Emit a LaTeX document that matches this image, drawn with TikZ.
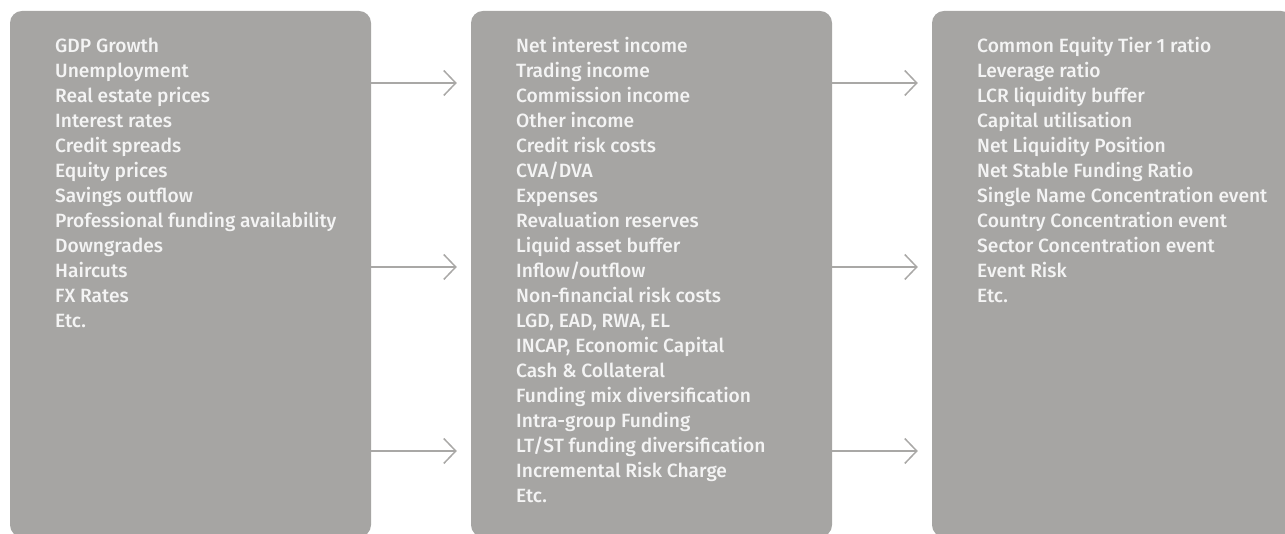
\documentclass[tikz,border=0pt]{standalone}
\usepackage{fontspec}
\setmainfont{Fira Sans Medium}
\usetikzlibrary{arrows.meta}
\definecolor{boxgray}{HTML}{A6A5A3}
\definecolor{linegray}{HTML}{A9A8A6}
\definecolor{textwhite}{HTML}{F4F4F4}

\begin{document}
\begin{tikzpicture}[x=1pt, y=1pt,
        panel/.style={fill=boxgray, rounded corners=12pt, inner sep=0pt,
            minimum width=361pt, minimum height=526pt},
        item/.style={text=textwhite, anchor=base west, inner sep=0pt,
            font=\fontsize{19.2}{20}\selectfont},
        link/.style={draw=linegray, line width=1.5pt,
            -{Straight Barb[length=12pt, width=25pt]}, shorten >=14pt}]
        \useasboundingbox (0,0) rectangle (1285,534);
        \clip (0,0) rectangle (1285,534);

        % Draw the three panels
        \node[panel] (drivers) at (190.5,260) {};
        \node[panel] (impact) at (651.5,260) {};
        \node[panel] (metrics) at (1112.5,260) {};

        % Arrows between panels
        \foreach \d in {191, 7, -177} {
            \draw[link] ([yshift=\d]drivers.east) -- ([yshift=\d]impact.west);
            \draw[link] ([yshift=\d]impact.east) -- ([yshift=\d]metrics.west);
        }

        % Panel texts
        \foreach \t [count=\i] in {GDP Growth, Unemployment, Real estate prices,
            Interest rates, Credit spreads, Equity prices, Savings outflow,
            Professional funding availability, Downgrades, Haircuts, FX Rates, Etc.} {
            \node[item] (drv\i) at (55,506-25*\i) {\t};
        }
        \foreach \t [count=\i] in {Net interest income, Trading income,
            Commission income, Other income, Credit risk costs, CVA/DVA, Expenses,
            Revaluation reserves, Liquid asset buffer, Inflow/outflow,
            Non-financial risk costs, {LGD, EAD, RWA, EL},
            {INCAP, Economic Capital}, Cash \& Collateral,
            Funding mix diversification, Intra-group Funding,
            LT/ST funding diversification, Incremental Risk Charge, Etc.} {
            \node[item] (imp\i) at (516,506-25*\i) {\t};
        }
        \foreach \t [count=\i] in {Common Equity Tier 1 ratio, Leverage ratio,
            LCR liquidity buffer, Capital utilisation, Net Liquidity Position,
            Net Stable Funding Ratio, Single Name Concentration event,
            Country Concentration event, Sector Concentration event,
            Event Risk, Etc.} {
            \node[item] (met\i) at (977,506-25*\i) {\t};
        }
    \end{tikzpicture}
\end{document}
